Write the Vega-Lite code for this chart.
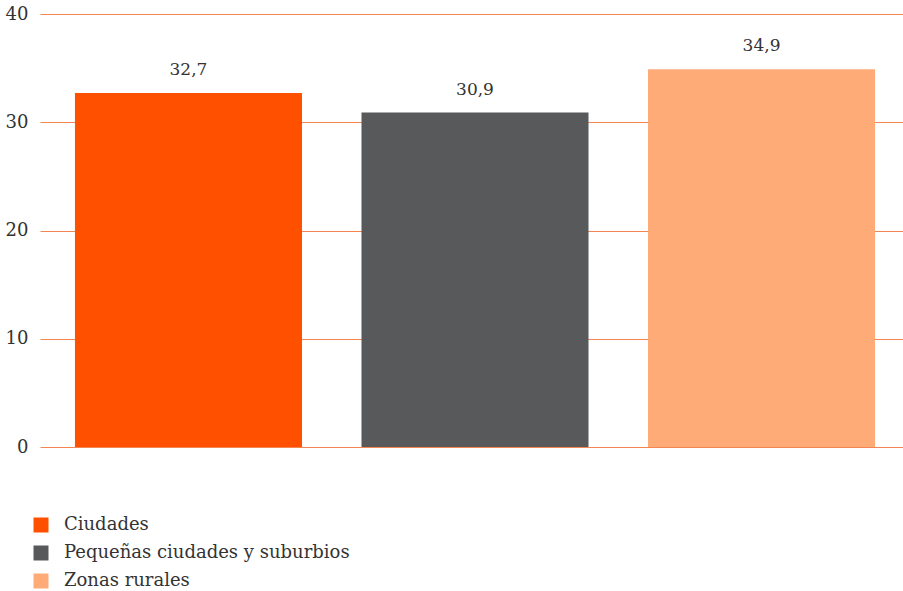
{
  "$schema": "https://vega.github.io/schema/vega-lite/v6.json",
  "width": 870,
  "height": 433,
  "autosize": {"type": "none"},
  "padding": {"left": 40, "top": 14, "right": 0, "bottom": 144},
  "background": "white",
  "config": {
    "locale": {"number": {"decimal": ",", "thousands": ".", "grouping": [3], "currency": ["", " €"]}},
    "view": {"stroke": null},
    "font": "DejaVu Serif"
  },
  "data": {
    "values": [
      {"zona": "Ciudades", "valor": 32.7},
      {"zona": "Pequeñas ciudades y suburbios", "valor": 30.9},
      {"zona": "Zonas rurales", "valor": 34.9}
    ]
  },
  "encoding": {
    "x": {
      "field": "zona", "type": "nominal", "sort": null,
      "scale": {"paddingInner": 0.2077, "paddingOuter": 0.122},
      "axis": null
    },
    "y": {
      "field": "valor", "type": "quantitative",
      "scale": {"domain": [0, 40], "nice": false},
      "axis": {
        "values": [0, 10, 20, 30, 40],
        "title": null,
        "domain": false,
        "ticks": false,
        "labelPadding": 12,
        "labelFont": "DejaVu Serif",
        "labelFontSize": 18,
        "labelColor": "#333333",
        "gridColor": "#f4783e",
        "gridWidth": 1,
        "gridOpacity": 0.9
      }
    }
  },
  "layer": [
    {
      "mark": {"type": "bar"},
      "encoding": {
        "color": {
          "field": "zona", "type": "nominal", "sort": null,
          "scale": {
            "domain": ["Ciudades", "Pequeñas ciudades y suburbios", "Zonas rurales"],
            "range": ["#ff5000", "#58595b", "#ffab78"]
          },
          "legend": {
            "title": null,
            "orient": "none",
            "legendX": -8,
            "legendY": 502,
            "direction": "vertical",
            "symbolType": "square",
            "symbolSize": 225,
            "symbolStrokeWidth": 0,
            "symbolOpacity": 1,
            "labelFont": "DejaVu Serif",
            "labelFontSize": 18,
            "labelColor": "#333333",
            "labelOffset": 14,
            "labelLimit": 0,
            "rowPadding": 10
          }
        }
      }
    },
    {
      "mark": {"type": "text", "baseline": "bottom", "dy": -14, "fontSize": 17, "font": "DejaVu Serif", "color": "#333333"},
      "encoding": {
        "text": {"field": "valor", "type": "quantitative", "format": ".1f"}
      }
    }
  ]
}
